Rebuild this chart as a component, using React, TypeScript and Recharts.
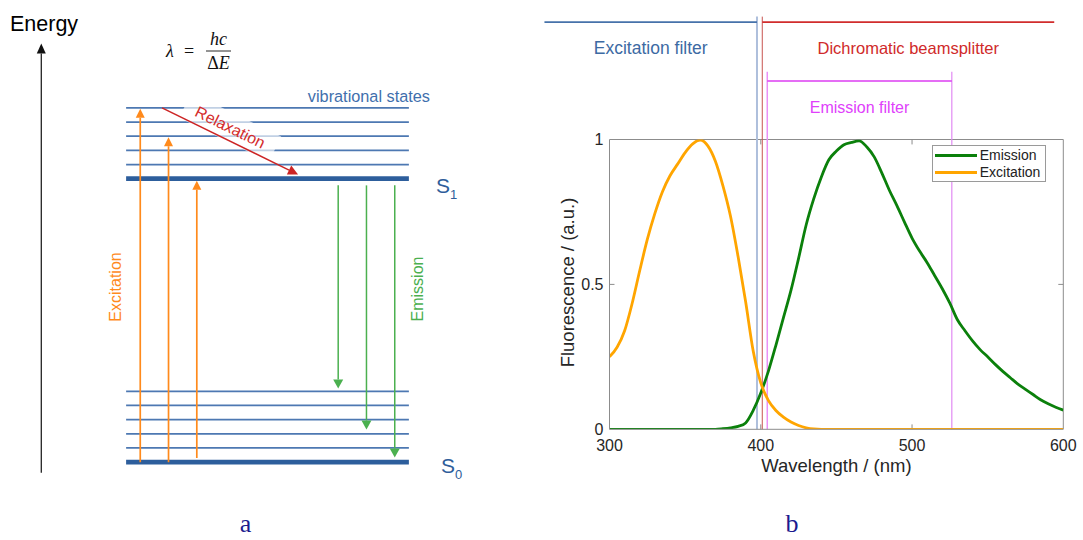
import React from 'react';
import { ComposedChart, LineChart, Line, XAxis, YAxis, ReferenceLine, Legend } from 'recharts';

// ---------- panel a: Jablonski diagram (energy in level units) ----------
const groundLevels = [0, 1, 2, 3, 4, 5];
const excitedLevels = [20, 21, 22, 23, 24, 25];
const electronicStates = [0, 20];
const levelSpan = [0, 10];

const excitationX = [0.5, 1.5, 2.5];
const excitationFrom = [0, 0, 0.3];
const excitationTo = [24.93, 22.93, 19.85];

const emissionX = [7.5, 8.5, 9.5];
const emissionFrom = [19.53, 19.53, 19.53];
const emissionTo = [5.2, 2.3, 0.33];

const relaxationStart = { x: 1.27, e: 25 };
const relaxationEnd = { x: 6.08, e: 20.3 };
const energyAxis = { x: -3, from: -0.75, to: 29.55 };

// ---------- panel b: spectra ----------
const wavelengths = [
  300, 305, 310, 315, 320, 325, 330, 335, 340, 345, 350, 355, 360, 365, 370, 375, 380, 385, 390, 395,
  400, 405, 410, 415, 420, 425, 430, 435, 440, 445, 450, 455, 460, 465, 470, 475, 480, 485, 490, 495,
  500, 505, 510, 515, 520, 525, 530, 535, 540, 545, 550, 555, 560, 565, 570, 575, 580, 585, 590, 595, 600,
];
const excitation = [
  0.25, 0.283, 0.34, 0.435, 0.548, 0.655, 0.745, 0.82, 0.875, 0.915, 0.955, 0.985, 0.998, 0.978, 0.925, 0.84, 0.735, 0.596, 0.44, 0.27,
  0.16, 0.1, 0.065, 0.042, 0.025, 0.013, 0.005, 0.001, 0, 0, 0, 0, 0, 0, 0, 0, 0, 0, 0, 0,
  0, 0, 0, 0, 0, 0, 0, 0, 0, 0, 0, 0, 0, 0, 0, 0, 0, 0, 0, 0, 0,
];
const emission = [
  0, 0, 0, 0, 0, 0, 0, 0, 0, 0, 0, 0, 0, 0, 0, 0.002, 0.005, 0.01, 0.022, 0.065,
  0.125, 0.2, 0.29, 0.385, 0.48, 0.59, 0.705, 0.795, 0.87, 0.93, 0.96, 0.982, 0.99, 0.995, 0.975, 0.94, 0.885, 0.825, 0.772, 0.715,
  0.66, 0.615, 0.575, 0.53, 0.485, 0.435, 0.378, 0.34, 0.305, 0.275, 0.25, 0.224, 0.2, 0.178, 0.156, 0.138, 0.12, 0.102, 0.088, 0.076, 0.066,
];
const xTicks = [300, 400, 500, 600];
const yTicks = [0, 0.5, 1];

// filter bands drawn above the plot
const filterNames = ['Excitation filter', 'Dichromatic beamsplitter', 'Emission filter'];
const filterStart = [257, 401, 404.3];
const filterEnd = [397.5, 594, 526.3];
const filterLevel = [1.405, 1.405, 1.202];
const filterEdges = [397.5, 401, 404.3, 526.3];
const filterEdgeTop = [1.424, 1.424, 1.234, 1.234];

const FONT = '"Liberation Sans", Arial, sans-serif';
const SERIF = '"Liberation Serif", "Times New Roman", serif';

const filterColors = ['#4672aa', '#d12c2c', '#dc3cf2'];
const filterTextColors = ['#3d6aa3', '#d02a2a', '#e040fb'];
const filterFontSizes = [17.5, 16.5, 16];
const edgeColors = ['#aebfdc', '#c85450', '#ea90f7', '#e18af3'];
const edgeWidths = [2, 1, 1.5, 1.2];

const spectra = wavelengths.map((w, i) => ({ w, emission: emission[i], excitation: excitation[i] }));

const arrowShape = (color: string, width: number, headLen: number, headHalf: number, label?: string) =>
  (props: any) => {
    const { x1, y1, x2, y2 } = props;
    const dx = x2 - x1;
    const dy = y2 - y1;
    const len = Math.hypot(dx, dy) || 1;
    const ux = dx / len;
    const uy = dy / len;
    const bx = x2 - ux * headLen;
    const by = y2 - uy * headLen;
    let text = null;
    if (label) {
      const angle = (Math.atan2(dy, dx) * 180) / Math.PI;
      const cx = (x1 + x2) / 2 - ux * 6 + uy * 12.6;
      const cy = (y1 + y2) / 2 - uy * 6 - ux * 12.6;
      text = (
        <g transform={`rotate(${angle} ${cx} ${cy})`}>
          <rect x={cx - 50} y={cy - 14} width={100} height={28} fill="#fff" opacity={0.65} />
          <text x={cx} y={cy} dy="0.35em" textAnchor="middle" fill="#d42c2c" fontSize={16} fontFamily={FONT}>
            {label}
          </text>
        </g>
      );
    }
    return (
      <g>
        {text}
        <line x1={x1} y1={y1} x2={bx} y2={by} stroke={color} strokeWidth={width} />
        <polygon
          points={`${x2},${y2} ${bx - uy * headHalf},${by + ux * headHalf} ${bx + uy * headHalf},${by - ux * headHalf}`}
          fill={color}
        />
      </g>
    );
  };

const filterShape = (i: number) => (props: any) => {
  const { x1, y1, x2, y2 } = props;
  return (
    <g>
      <line x1={x1} y1={y1} x2={x2} y2={y2} stroke={filterColors[i]} strokeWidth={i === 2 ? 1.5 : 1.8} />
      <text
        x={(x1 + x2) / 2}
        y={y1 + 26}
        dy="0.35em"
        textAnchor="middle"
        fill={filterTextColors[i]}
        fontSize={filterFontSizes[i]}
        fontFamily={FONT}
      >
        {filterNames[i]}
      </text>
    </g>
  );
};

const renderLegend = (props: any) => {
  const { payload } = props;
  return (
    <div
      style={{
        border: '1px solid #9a9a9a',
        background: '#fff',
        padding: '1px 5px 1px 2px',
        fontFamily: FONT,
        fontSize: 14,
        color: '#222',
        lineHeight: '16.7px',
      }}
    >
      {payload.map((p: any) => (
        <div key={p.value} style={{ display: 'flex', alignItems: 'center', whiteSpace: 'nowrap' }}>
          <span style={{ display: 'inline-block', width: 42, height: 3, background: p.color, marginRight: 3 }} />
          {p.value}
        </div>
      ))}
    </div>
  );
};

function Jablonski() {
  const thin = '#4d78b2';
  const thick = '#2d5e9c';
  return (
    <ComposedChart width={540} height={540} margin={{ top: 37, right: 18, bottom: 7, left: 13 }}>
      <XAxis type="number" dataKey="x" domain={[-4, 14]} hide allowDataOverflow height={0} />
      <YAxis type="number" domain={[-5, 30]} hide allowDataOverflow width={0} />
      {[...groundLevels, ...excitedLevels].map((e) => {
        const isState = electronicStates.includes(e);
        return (
          <ReferenceLine
            key={`lvl-${e}`}
            segment={[{ x: levelSpan[0], y: e }, { x: levelSpan[1], y: e }]}
            stroke={isState ? thick : thin}
            strokeWidth={isState ? 4.8 : 1.8}
            ifOverflow="visible"
          />
        );
      })}
      <ReferenceLine
        segment={[{ x: energyAxis.x, y: energyAxis.from }, { x: energyAxis.x, y: energyAxis.to }]}
        shape={arrowShape('#111', 1.2, 10, 4.5)}
        ifOverflow="visible"
      />
      {excitationX.map((x, i) => (
        <ReferenceLine
          key={`exc-${i}`}
          segment={[{ x, y: excitationFrom[i] }, { x, y: excitationTo[i] }]}
          shape={arrowShape('#ff8a1c', 1.7, 9, 4.5)}
          ifOverflow="visible"
        />
      ))}
      {emissionX.map((x, i) => (
        <ReferenceLine
          key={`emi-${i}`}
          segment={[{ x, y: emissionFrom[i] }, { x, y: emissionTo[i] }]}
          shape={arrowShape('#4bb04f', 1.5, 9, 5)}
          ifOverflow="visible"
        />
      ))}
      <ReferenceLine
        segment={[{ x: relaxationStart.x, y: relaxationStart.e }, { x: relaxationEnd.x, y: relaxationEnd.e }]}
        shape={arrowShape('#cc2424', 1.5, 10, 5, 'Relaxation')}
        ifOverflow="visible"
      />
    </ComposedChart>
  );
}

function Spectra() {
  const axisGray = '#8c8c8c';
  const tickStyle = { fill: '#262626', fontSize: 16, fontFamily: FONT };
  return (
    <LineChart width={563} height={540} data={spectra} margin={{ top: 139.5, right: 19.7, bottom: 80.7, left: 49.5 }}>
      <XAxis
        dataKey="w"
        type="number"
        domain={[300, 600]}
        ticks={xTicks}
        allowDataOverflow
        height={30}
        tickLine={false}
        tickSize={0}
        tickMargin={10}
        axisLine={{ stroke: axisGray }}
        tick={tickStyle}
      />
      <YAxis
        type="number"
        domain={[0, 1]}
        ticks={yTicks}
        allowDataOverflow
        width={40}
        tickLine={false}
        tickSize={0}
        tickMargin={6}
        axisLine={{ stroke: axisGray }}
        tick={tickStyle}
        tickFormatter={(v: number) => String(v)}
      />
      <ReferenceLine y={1} stroke={axisGray} />
      <ReferenceLine x={600} stroke={axisGray} />
      {xTicks.slice(1, -1).map((t) => (
        <ReferenceLine key={`bt-${t}`} segment={[{ x: t, y: 0 }, { x: t, y: 0.017 }]} stroke={axisGray} />
      ))}
      {xTicks.slice(1, -1).map((t) => (
        <ReferenceLine key={`tt-${t}`} segment={[{ x: t, y: 1 }, { x: t, y: 0.983 }]} stroke={axisGray} />
      ))}
      {yTicks.slice(1, -1).map((t) => (
        <ReferenceLine key={`lt-${t}`} segment={[{ x: 300, y: t }, { x: 303.3, y: t }]} stroke={axisGray} />
      ))}
      {yTicks.slice(1, -1).map((t) => (
        <ReferenceLine key={`rt-${t}`} segment={[{ x: 600, y: t }, { x: 596.7, y: t }]} stroke={axisGray} />
      ))}
      {filterEdges.map((x, i) => (
        <ReferenceLine
          key={`edge-${i}`}
          segment={[{ x, y: filterEdgeTop[i] }, { x, y: 0 }]}
          stroke={edgeColors[i]}
          strokeWidth={edgeWidths[i]}
          ifOverflow="visible"
        />
      ))}
      {filterNames.map((name, i) => (
        <ReferenceLine
          key={name}
          segment={[{ x: filterStart[i], y: filterLevel[i] }, { x: filterEnd[i], y: filterLevel[i] }]}
          shape={filterShape(i)}
          ifOverflow="visible"
        />
      ))}
      <Line
        type="monotone"
        dataKey="emission"
        name="Emission"
        stroke="#0b800b"
        strokeWidth={2.8}
        dot={false}
        legendType="line"
        isAnimationActive={false}
      />
      <Line
        type="monotone"
        dataKey="excitation"
        name="Excitation"
        stroke="#ffa500"
        strokeWidth={2.8}
        dot={false}
        legendType="line"
        isAnimationActive={false}
      />
      <Legend
        layout="vertical"
        align="center"
        verticalAlign="middle"
        content={renderLegend}
        wrapperStyle={{ left: 411.7, top: 145, width: 'auto', height: 'auto' }}
      />
    </LineChart>
  );
}

export default function App() {
  return (
    <div style={{ position: 'fixed', left: 0, top: 0, width: 1083, height: 540, background: '#fff', overflow: 'hidden' }}>
      <div style={{ position: 'absolute', left: 0, top: 0 }}>
        <Jablonski />
      </div>
      <div style={{ position: 'absolute', left: 520, top: 0 }}>
        <Spectra />
      </div>
      <svg
        width={1083}
        height={540}
        style={{ position: 'absolute', left: 0, top: 0, pointerEvents: 'none' }}
      >
        <text x={10} y={30.5} fontSize={21.5} fontFamily={FONT} fill="#000">Energy</text>
        <g fontFamily={SERIF} fontSize={18} fill="#111">
          <text x={166} y={57} fontStyle="italic">λ</text>
          <text x={184} y={57}>=</text>
          <text x={218.5} y={44.5} textAnchor="middle" fontStyle="italic">hc</text>
          <line x1={206} y1={51} x2={231} y2={51} stroke="#111" strokeWidth={0.9} />
          <text x={218.5} y={69} textAnchor="middle">Δ<tspan fontStyle="italic">E</tspan></text>
        </g>
        <text x={430} y={101.5} textAnchor="end" fontSize={16.3} fontFamily={FONT} fill="#3f6fad">
          vibrational states
        </text>
        <text x={436} y={193} fontSize={21} fontFamily={FONT} fill="#2e5d9a">
          S<tspan fontSize={13} dy={6}>1</tspan>
        </text>
        <text x={441} y={473} fontSize={21} fontFamily={FONT} fill="#2e5d9a">
          S<tspan fontSize={13} dy={6}>0</tspan>
        </text>
        <text
          x={115}
          y={287}
          dy="0.35em"
          textAnchor="middle"
          transform="rotate(-90 115 287)"
          fontSize={16}
          fontFamily={FONT}
          fill="#ff8a1c"
        >
          Excitation
        </text>
        <text
          x={417}
          y={289}
          dy="0.35em"
          textAnchor="middle"
          transform="rotate(-90 417 289)"
          fontSize={16}
          fontFamily={FONT}
          fill="#4bb04f"
        >
          Emission
        </text>
        <text
          x={568}
          y={282.5}
          dy="0.35em"
          textAnchor="middle"
          transform="rotate(-90 568 282.5)"
          fontSize={18.5}
          fontFamily={FONT}
          fill="#262626"
        >
          Fluorescence / (a.u.)
        </text>
        <text x={836.4} y={472} textAnchor="middle" fontSize={18.5} fontFamily={FONT} fill="#262626">
          Wavelength / (nm)
        </text>
        <text x={245.5} y={532} textAnchor="middle" fontSize={26} fontFamily={SERIF} fill="#1b1b8f">a</text>
        <text x={792} y={532} textAnchor="middle" fontSize={26} fontFamily={SERIF} fill="#1b1b8f">b</text>
      </svg>
    </div>
  );
}
